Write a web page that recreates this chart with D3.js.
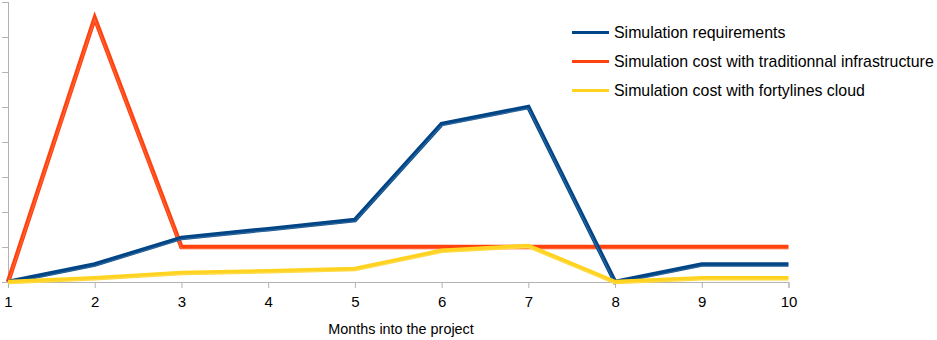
<!DOCTYPE html>
<html><head><meta charset="utf-8">
<script src="https://cdn.jsdelivr.net/npm/d3@7"></script>
<style>
html,body{margin:0;padding:0;background:#fff;}
svg{display:block;font-family:"Liberation Sans",Arial,sans-serif;}
</style></head>
<body><svg id="c" width="937" height="340"></svg>
<script>
const months = [1,2,3,4,5,6,7,8,9,10];
const requirements = [0,0.5,1.26,1.51,1.77,4.51,5.0,0,0.5,0.5];
const traditional = [0,7.54,1.0,1.0,1.0,1.0,1.0,1.0,1.0,1.0];
const cloud = [0,0.11,0.26,0.31,0.37,0.89,1.03,0,0.11,0.11];
const yTicks = [0,1,2,3,4,5,6,7,8];
const seriesNames = ["Simulation requirements","Simulation cost with traditionnal infrastructure","Simulation cost with fortylines cloud"];
const colors = ["#004586","#ff420e","#ffd320"];

const svg = d3.select("#c");
const x = d3.scaleLinear().domain([1,10]).range([8,788.5]);
const y = d3.scaleLinear().domain([0,8]).range([282,2]);
const axisColor = "#b3b3b3";

// y axis
const ya = svg.append("g").attr("transform","translate(8,0)")
  .call(d3.axisLeft(y).tickValues(yTicks).tickSize(6).tickFormat(""));
ya.select(".domain").attr("stroke",axisColor).attr("d","M0.5,2V282");
ya.selectAll(".tick line").attr("stroke",axisColor);

// x axis
const xa = svg.append("g").attr("transform","translate(0,282)")
  .call(d3.axisBottom(x).tickValues(months).tickSize(6).tickPadding(0).tickFormat(d3.format("d")));
xa.select(".domain").attr("stroke",axisColor);
xa.selectAll(".tick line").attr("stroke",axisColor);
xa.selectAll(".tick text").attr("font-size",15).attr("fill","#000").attr("dy",null).attr("y",25)
  .attr("font-family","Liberation Sans, Arial, sans-serif");

svg.append("text").attr("x",401).attr("y",334).attr("text-anchor","middle")
  .attr("font-size",14.4).attr("fill","#000").text("Months into the project");

const line = d3.line().x((d,i)=>x(months[i])).y(d=>y(d));
const data = [requirements,traditional,cloud];
// draw order: orange, blue, yellow
[1,0,2].forEach(k=>{
  svg.append("path").attr("d",line(data[k])).attr("fill","none")
    .attr("stroke",colors[k]).attr("stroke-width",4.5).attr("stroke-linejoin","miter").attr("stroke-miterlimit",10);
  svg.append("path").attr("d",line(data[k])).attr("fill","none")
    .attr("stroke","#fff").attr("stroke-opacity",0.18).attr("stroke-width",1.2)
    .attr("transform","translate(0,1.5)");
});

// legend
const lg = svg.append("g");
seriesNames.forEach((n,i)=>{
  const ly = [32.5,61.5,90.5][i];
  lg.append("line").attr("x1",572).attr("x2",609).attr("y1",ly).attr("y2",ly)
    .attr("stroke",colors[i]).attr("stroke-width",3);
  lg.append("text").attr("x",614).attr("y",ly+5.5).attr("font-size",15.9).attr("fill","#000").text(n);
});
</script></body></html>
